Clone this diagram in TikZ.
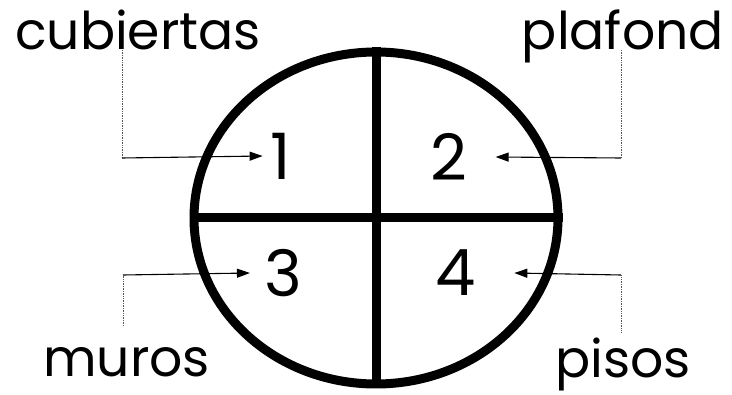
\documentclass[tikz,border=0pt]{standalone}
\usepackage{fontspec}
\setmainfont{Poppins}
\usepackage{tikz}
\usetikzlibrary{arrows.meta, shapes.geometric}

\begin{document}
\begin{tikzpicture}[x=1pt, y=-1pt,
		rim/.style={line width=9pt},
		lead/.style={densely dotted, line width=0.7pt, black!65},
		pointer/.style={line width=1.1pt, -{Triangle[length=13pt, width=9pt]}},
		word/.style={inner sep=0pt, font=\fontsize{52}{52}\selectfont},
		digit/.style={inner sep=0pt, font=\fontsize{64}{64}\selectfont}]
		\useasboundingbox (0,0) rectangle (732,395);
		
		% 圆与十字
		\node[ellipse, draw, rim, minimum width=364pt, minimum height=332pt, inner sep=0pt] (disc) at (376,218) {};
		\draw[rim] (disc.north) -- (disc.south);
		\draw[rim] (disc.west) -- (disc.east);
		
		% 数字
		\node[digit] (n1) at (281,156) {1};
		\node[digit] (n2) at (449,157) {2};
		\node[digit] (n3) at (283,273) {3};
		\node[digit] (n4) at (456,273) {4};
		
		% 标签
		\node[word, anchor=base west] (cub) at (15,50) {cubiertas};
		\node[word, anchor=base east] (pla) at (724,50) {plafond};
		\node[word, anchor=base west] (mur) at (43,377) {muros};
		\node[word, anchor=base east] (pis) at (691,378) {pisos};
		
		% 拐点
		\coordinate (c1) at (122,158);
		\coordinate (c2) at (621,158);
		\coordinate (c3) at (123,275);
		\coordinate (c4) at (621,275);
		
		% 引线
		\draw[lead] (cub.base -| c1) -- (c1);
		\draw[pointer] (c1) -- ([xshift=-8pt]n1.west);
		\draw[lead] (pla.base -| c2) -- (c2);
		\draw[pointer] (c2) -- ([xshift=28pt]n2.east);
		\draw[lead] ([yshift=22pt]mur.north -| c3) -- (c3);
		\draw[pointer] (c3) -- ([xshift=-14pt]n3.west);
		\draw[lead] ([yshift=6pt]pis.north -| c4) -- (c4);
		\draw[pointer] (c4) -- ([xshift=38pt]n4.east);
	\end{tikzpicture}
\end{document}
